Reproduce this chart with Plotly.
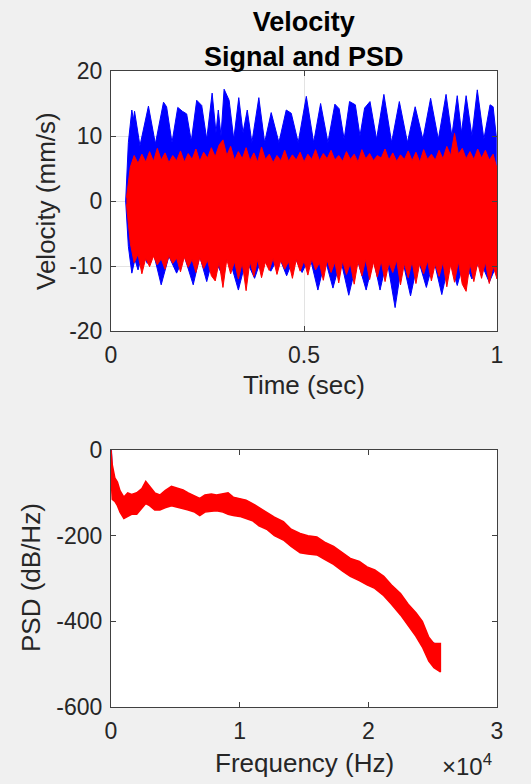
import numpy as np
import plotly.graph_objects as go

# ---------------- data ----------------
# Top panel: velocity signals (mm/s) vs time (s)
# blue signals: upper envelope (peaks / valleys) and lower envelope (troughs / crests)
blue_top_t = [0.038, 0.045, 0.054, 0.058, 0.061, 0.075, 0.097, 0.115, 0.136, 0.144,
              0.158, 0.173, 0.185, 0.196, 0.208, 0.222, 0.235, 0.248, 0.262, 0.272,
              0.278, 0.285, 0.293, 0.306, 0.318, 0.331, 0.342, 0.353, 0.365, 0.383,
              0.398, 0.415, 0.435, 0.454, 0.467, 0.485, 0.506, 0.525, 0.543, 0.562,
              0.580, 0.591, 0.604, 0.618, 0.633, 0.645, 0.657, 0.671, 0.688, 0.707,
              0.727, 0.747, 0.768, 0.788, 0.808, 0.828, 0.848, 0.868, 0.883, 0.897,
              0.908, 0.920, 0.935, 0.949, 0.966, 0.982, 0.990, 0.998]
blue_top_v = [0, 9, 14.0, 12.5, 13.8, 8.5, 14.6, 8.8, 15.2, 14.5,
              9.0, 14.4, 13.8, 13.4, 9.2, 15.5, 14.7, 9.5, 16.6, 10.5,
              14.0, 10.0, 17.2, 15.5, 9.5, 15.9, 10.5, 14.0, 9.0, 15.9,
              9.0, 13.6, 9.0, 14.0, 13.5, 9.0, 16.1, 9.0, 15.0, 9.0,
              14.9, 14.2, 9.5, 15.3, 14.8, 10.0, 14.3, 15.3, 9.5, 16.4,
              9.0, 15.3, 9.0, 14.5, 9.5, 15.8, 9.5, 16.4, 10.0, 16.2,
              10.5, 16.2, 10.0, 17.1, 9.5, 14.8, 14.5, 10.0]
blue_bot_t = [0.038, 0.045, 0.054, 0.062, 0.070, 0.082, 0.094, 0.110, 0.130, 0.150,
              0.170, 0.190, 0.213, 0.230, 0.248, 0.265, 0.285, 0.305, 0.330, 0.350,
              0.372, 0.392, 0.414, 0.435, 0.455, 0.475, 0.495, 0.515, 0.536, 0.555,
              0.575, 0.595, 0.616, 0.638, 0.661, 0.680, 0.697, 0.715, 0.736, 0.755,
              0.776, 0.796, 0.817, 0.836, 0.857, 0.877, 0.897, 0.915, 0.935, 0.955,
              0.980, 0.998]
blue_bot_v = [0, -7, -11.1, -9, -10.6, -8, -9.6, -8, -12.9, -8.5,
              -11.1, -8.5, -12.9, -8.5, -12.4, -8.5, -11.0, -8.5, -13.7, -9,
              -11.9, -8.5, -10.8, -8.5, -11.5, -8.5, -11.0, -8.5, -13.7, -9,
              -13.4, -9, -14.5, -9, -13.7, -9, -13.7, -9, -16.4, -9,
              -14.6, -9, -13.3, -9, -14.4, -9, -13.0, -9, -12.0, -9,
              -12.5, -10]

# red signals: sampled every 0.01 s from 0.04 s to 1.00 s
red_t = np.round(np.arange(0.04, 1.0001, 0.01), 2)
red_top = [0.5, 5.2, 7.0, 5.8, 7.2, 6.0, 7.6, 6.1, 8.1, 6.3,
           7.4, 5.9, 7.0, 6.2, 7.7, 6.0, 7.3, 6.4, 8.0, 6.1,
           7.5, 6.6, 8.2, 6.8, 8.6, 9.4, 7.0, 8.4, 6.3, 7.6,
           6.5, 8.2, 6.2, 7.4, 6.0, 8.3, 6.4, 7.2, 5.9, 7.0,
           6.2, 7.8, 6.1, 7.1, 6.3, 7.5, 6.0, 7.2, 6.4, 7.9,
           6.2, 7.3, 6.5, 7.8, 6.3, 7.0, 6.1, 7.6, 6.4, 7.2,
           6.0, 7.9, 6.5, 7.3, 6.2, 7.0, 6.6, 8.0, 6.3, 7.4,
           6.1, 7.1, 6.4, 7.7, 6.2, 7.5, 6.0, 7.9, 6.4, 7.2,
           6.3, 7.8, 6.5, 8.4, 7.0, 10.4, 7.2, 8.1, 6.5, 7.6,
           6.4, 8.0, 6.6, 7.8, 6.3, 7.2, 5.0]
red_bot = [-0.5, -6.5, -9.5, -8.2, -11.2, -8.8, -10.1, -8.5, -9.8, -8.9,
           -10.5, -8.4, -9.6, -8.8, -10.9, -8.6, -10.2, -9.0, -11.0, -8.7,
           -10.4, -9.1, -11.5, -12.3, -9.4, -13.3, -9.0, -11.2, -9.3, -12.0,
           -9.5, -13.8, -9.2, -11.6, -9.0, -11.8, -9.4, -10.7, -8.8, -11.3,
           -9.1, -10.5, -9.3, -11.9, -9.0, -10.8, -9.2, -11.4, -8.9, -10.6,
           -9.5, -12.2, -9.1, -11.0, -9.4, -12.6, -9.2, -11.3, -9.6, -12.8,
           -9.3, -11.5, -9.0, -12.1, -9.4, -11.7, -9.2, -12.4, -9.5, -11.0,
           -9.1, -12.9, -9.6, -11.8, -9.3, -12.7, -9.5, -11.2, -9.2, -12.3,
           -9.7, -11.6, -9.4, -13.2, -9.8, -12.5, -9.3, -12.8, -13.9, -9.6,
           -12.4, -9.5, -11.9, -9.4, -12.7, -10.0, -12.0]

# Bottom panel: PSD (dB/Hz) vs frequency (Hz)
psd_f = [0, 100, 300, 500, 700, 1000, 1300, 1600, 2000, 2400,
         2700, 3000, 3400, 3800, 4200, 4700, 5200, 5600, 6000, 6500,
         6900, 7300, 7800, 8200, 8700, 9100, 9500, 10000, 10500, 11000,
         11500, 12100, 12700, 13400, 14000, 14700, 15300, 16000, 16600, 17300,
         18000, 18600, 19300, 19900, 20500, 21200, 21800, 22500, 23100, 23700,
         24200, 24700, 25100, 25600]
psd_hi = [0, -35, -65, -75, -95, -110, -100, -104, -100, -90,
          -73, -85, -100, -105, -95, -85, -90, -93, -100, -107,
          -113, -105, -103, -105, -103, -100, -110, -113, -117, -125,
          -135, -145, -157, -167, -185, -195, -200, -203, -215, -225,
          -240, -253, -260, -273, -280, -295, -315, -335, -360, -380,
          -400, -437, -452, -452]
psd_lo = [-65, -115, -120, -130, -145, -160, -155, -150, -150, -135,
          -125, -130, -140, -140, -135, -130, -133, -137, -140, -145,
          -153, -145, -143, -142, -145, -150, -153, -155, -160, -165,
          -177, -185, -200, -210, -225, -240, -243, -245, -255, -267,
          -283, -295, -305, -315, -323, -340, -360, -385, -410, -435,
          -460, -493, -508, -518]
psd_blue_f = [0, 100, 300, 700, 1000, 2000, 2700, 4000, 6000, 8000, 10000, 12000,
              14000, 16000, 18000, 20000, 22000, 23700, 24200, 24600, 25000, 25300, 25600]
psd_blue_v = [0, -75, -92, -118, -135, -125, -100, -115, -118, -124, -135, -165,
              -205, -222, -262, -302, -335, -405, -428, -442, -450, -456, -460]

time_ticks = [0, 0.5, 1]
time_ticktext = ["0", "0.5", "1"]
vel_ticks = [-20, -10, 0, 10, 20]
vel_ticktext = ["-20", "-10", "0", "10", "20"]
freq_ticks = [0, 10000, 20000, 30000]
freq_ticktext = ["0", "1", "2", "3"]
psd_ticks = [-600, -400, -200, 0]
psd_ticktext = ["-600", "-400", "-200", "0"]

BLUE = "#0000ff"
RED = "#ff0000"
FONT = "Liberation Sans, Arial, sans-serif"
TXT = "#262626"

fig = go.Figure()

# top panel
fig.add_trace(go.Scatter(
    x=list(blue_top_t) + list(blue_bot_t)[::-1],
    y=list(blue_top_v) + list(blue_bot_v)[::-1],
    mode="lines", fill="toself", fillcolor=BLUE,
    line=dict(color=BLUE, width=1), xaxis="x", yaxis="y", hoverinfo="skip"))
fig.add_trace(go.Scatter(
    x=list(red_t) + list(red_t)[::-1],
    y=list(red_top) + list(red_bot)[::-1],
    mode="lines", fill="toself", fillcolor=RED,
    line=dict(color=RED, width=1), xaxis="x", yaxis="y", hoverinfo="skip"))

# bottom panel
fig.add_trace(go.Scatter(
    x=psd_blue_f, y=psd_blue_v, mode="lines",
    line=dict(color=BLUE, width=2), xaxis="x2", yaxis="y2", hoverinfo="skip"))
fig.add_trace(go.Scatter(
    x=list(psd_f) + list(psd_f)[::-1],
    y=list(psd_hi) + list(psd_lo)[::-1],
    mode="lines", fill="toself", fillcolor=RED,
    line=dict(color=RED, width=1.5), xaxis="x2", yaxis="y2", hoverinfo="skip"))

axis_common = dict(
    showline=True, linecolor="#404040", linewidth=1, mirror="ticks",
    ticks="inside", ticklen=5, tickcolor="#404040", zeroline=False,
    tickfont=dict(family=FONT, size=23, color=TXT), ticklabelstandoff=3,
)

L, R, T, B = 111, 34, 71, 77
W, H = 531, 784
PH = H - T - B


def py(pix):
    return (H - B - pix) / PH


def px(pix):
    return (pix - L) / (W - L - R)


fig.update_layout(
    width=W, height=H,
    margin=dict(l=L, r=R, t=T, b=B),
    paper_bgcolor="#f0f0f0", plot_bgcolor="white",
    showlegend=False,
    xaxis=dict(domain=[0, 1], range=[0, 1], tickvals=time_ticks,
               ticktext=time_ticktext, showgrid=True, gridcolor="#e3e3e3",
               anchor="y", **axis_common),
    yaxis=dict(domain=[py(331), 1], range=[-20, 20], tickvals=vel_ticks,
               ticktext=vel_ticktext,
               showgrid=True, gridcolor="#e3e3e3", anchor="x", **axis_common),
    xaxis2=dict(domain=[0, 1], range=[0, 30000], tickvals=freq_ticks,
                ticktext=freq_ticktext, showgrid=False, anchor="y2", **axis_common),
    yaxis2=dict(domain=[0, py(450)], range=[-600, 0], tickvals=psd_ticks,
                ticktext=psd_ticktext,
                showgrid=False, anchor="x2", **axis_common),
)

ann_font = dict(family=FONT, size=26, color=TXT)
fig.add_annotation(text="<b>Velocity</b><br><b>Signal and PSD</b>",
                   xref="paper", yref="paper", x=0.5, y=py(40),
                   showarrow=False, font=dict(family=FONT, size=27, color="black"),
                   xanchor="center", yanchor="middle")
fig.add_annotation(text="Time (sec)", xref="paper", yref="paper",
                   x=0.5, y=py(385), showarrow=False, font=ann_font,
                   xanchor="center", yanchor="middle")
fig.add_annotation(text="Frequency (Hz)", xref="paper", yref="paper",
                   x=0.5, y=py(763), showarrow=False, font=ann_font,
                   xanchor="center", yanchor="middle")
fig.add_annotation(text="Velocity (mm/s)", xref="paper", yref="paper",
                   x=px(46), y=py(201), showarrow=False, font=ann_font,
                   textangle=-90, xanchor="center", yanchor="middle")
fig.add_annotation(text="PSD (dB/Hz)", xref="paper", yref="paper",
                   x=px(31), y=py(578), showarrow=False, font=ann_font,
                   textangle=-90, xanchor="center", yanchor="middle")
fig.add_annotation(text="×10<sup>4</sup>", xref="paper", yref="paper",
                   x=px(467), y=py(765), showarrow=False,
                   font=dict(family=FONT, size=24, color=TXT),
                   xanchor="center", yanchor="middle")

fig.write_html(
    "out.html",
    config={"displayModeBar": False},
    post_script="document.body.style.margin='0px';"
                "document.body.style.background='#f0f0f0';",
)
